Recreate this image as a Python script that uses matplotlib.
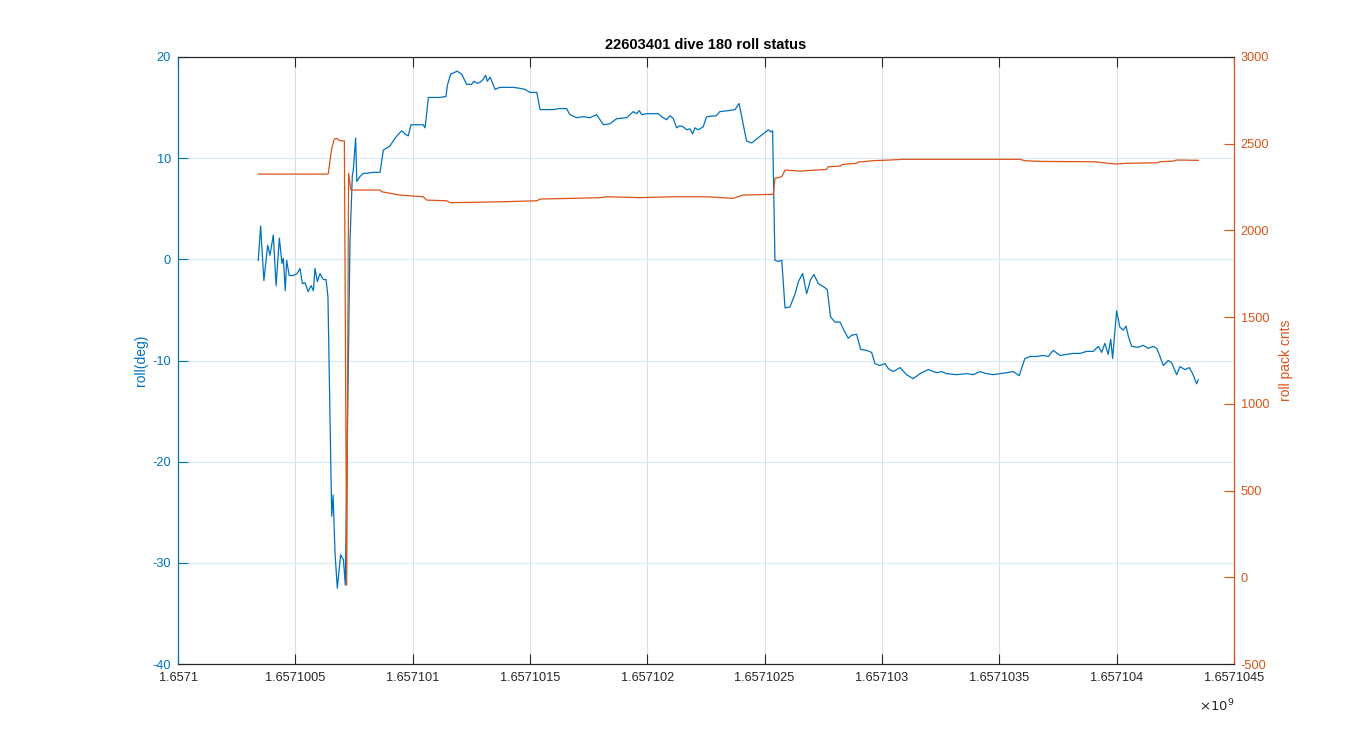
import numpy as np
import matplotlib
matplotlib.use('Agg')
import matplotlib.pyplot as plt
from matplotlib.ticker import FuncFormatter, MultipleLocator

plt.rcParams['font.family'] = ['Liberation Sans', 'DejaVu Sans']
plt.rcParams['axes.unicode_minus'] = False

T0 = 1657100000  # epoch base (s)

# roll (deg) vs time offset (s from T0)
roll_t = [342, 352, 366, 382, 392, 406, 418, 432, 443, 449, 457, 463, 474, 491, 508, 520,
          530, 541, 555, 567, 577, 584, 594, 605, 619, 631, 639, 648, 655, 661, 669, 679,
          693, 705, 713, 733, 743, 747, 757, 762, 776, 790, 804, 832, 861, 875, 903, 929,
          953, 967, 981, 993, 1017, 1045, 1053, 1067, 1116, 1142, 1148, 1162, 1190, 1209,
          1230, 1251, 1261, 1275, 1287, 1301, 1311, 1318, 1330, 1341, 1351, 1372, 1401,
          1429, 1457, 1479, 1500, 1529, 1543, 1600, 1621, 1656, 1670, 1699, 1727, 1756,
          1784, 1813, 1841, 1869, 1912, 1940, 1955, 1966, 1976, 1997, 2047, 2061, 2082,
          2097, 2111, 2125, 2139, 2153, 2168, 2182, 2193, 2203, 2217, 2238, 2253, 2295,
          2309, 2345, 2374, 2391, 2423, 2445, 2466, 2494, 2516, 2526, 2534, 2544, 2558,
          2573, 2587, 2608, 2630, 2644, 2662, 2679, 2696, 2710, 2729, 2757, 2767, 2781,
          2800, 2821, 2838, 2856, 2871, 2892, 2909, 2935, 2956, 2970, 2991, 3013, 3027,
          3048, 3077, 3105, 3133, 3162, 3197, 3233, 3254, 3276, 3318, 3361, 3389, 3418,
          3446, 3474, 3503, 3531, 3560, 3585, 3609, 3631, 3659, 3687, 3709, 3730, 3759,
          3787, 3815, 3844, 3872, 3901, 3922, 3936, 3950, 3964, 3975, 3983, 4000, 4014,
          4028, 4040, 4050, 4064, 4092, 4113, 4135, 4156, 4171, 4185, 4199, 4220, 4234,
          4256, 4270, 4291, 4310, 4324, 4341, 4348]
roll_deg = [-0.1, 3.3, -2.1, 1.4, 0.4, 2.4, -2.6, 2.1, -0.4, 0.1, -3.1, -0.1, -1.6, -1.6,
            -1.4, -0.9, -2.4, -2.3, -3.2, -2.6, -3.1, -0.9, -2.2, -1.4, -2.0, -2.0, -3.7,
            -15.9, -25.4, -23.3, -29.0, -32.5, -29.2, -29.7, -32.2, 1.9, 8.3, 8.8, 12.0,
            7.7, 8.2, 8.5, 8.5, 8.6, 8.6, 10.8, 11.2, 12.1, 12.7, 12.4, 12.2, 13.3, 13.3,
            13.3, 13.0, 16.0, 16.0, 16.1, 17.2, 18.3, 18.6, 18.3, 17.3, 17.3, 17.6, 17.4,
            17.5, 17.8, 18.2, 17.6, 18.0, 17.4, 16.8, 17.0, 17.0, 17.0, 16.9, 16.8, 16.5,
            16.5, 14.8, 14.8, 14.9, 14.9, 14.3, 14.0, 14.1, 14.0, 14.3, 13.3, 13.4, 13.9,
            14.0, 14.6, 14.4, 14.7, 14.3, 14.4, 14.4, 14.1, 13.8, 14.2, 13.9, 13.0, 13.2,
            13.1, 12.8, 12.9, 12.4, 13.0, 12.8, 13.1, 14.1, 14.2, 14.6, 14.7, 14.8, 15.4,
            11.7, 11.5, 11.9, 12.4, 12.8, 12.6, 12.7, -0.1, -0.2, -0.1, -4.8, -4.7, -3.4,
            -2.2, -1.4, -3.4, -2.0, -1.5, -2.4, -2.8, -3.0, -5.7, -6.2, -6.2, -7.0, -7.8,
            -7.5, -7.4, -8.9, -9.0, -9.2, -10.3, -10.5, -10.3, -10.8, -11.1, -10.7, -11.4,
            -11.8, -11.3, -10.9, -11.2, -11.1, -11.3, -11.4, -11.3, -11.4, -11.1, -11.3,
            -11.4, -11.3, -11.2, -11.1, -11.5, -9.8, -9.6, -9.6, -9.5, -9.6, -9.0, -9.5,
            -9.4, -9.3, -9.3, -9.1, -9.1, -8.6, -9.2, -8.3, -9.4, -7.9, -9.8, -5.1, -6.7,
            -7.0, -6.6, -7.6, -8.6, -8.7, -8.5, -8.8, -8.6, -8.8, -9.6, -10.5, -10.0, -10.2,
            -11.4, -10.6, -10.9, -10.7, -11.3, -12.3, -11.9]

# roll pack counts vs time offset (s from T0)
pack_t = [342, 640, 655, 666, 676, 690, 709, 719, 727, 737, 861, 868, 946, 1045, 1060, 1145,
          1159, 1258, 1401, 1529, 1543, 1685, 1798, 1827, 1969, 2111, 2253, 2366, 2409, 2537,
          2544, 2573, 2587, 2651, 2764, 2771, 2821, 2835, 2892, 2899, 2963, 3034, 3091, 3588,
          3609, 3673, 3901, 3947, 3993, 4043, 4171, 4185, 4242, 4256, 4348]
pack_cnts = [2325, 2325, 2473, 2527, 2531, 2517, 2516, -45, 2329, 2233, 2233, 2223, 2204,
             2194, 2175, 2171, 2160, 2162, 2166, 2171, 2181, 2185, 2189, 2194, 2189, 2194,
             2194, 2185, 2204, 2208, 2300, 2310, 2348, 2342, 2352, 2367, 2371, 2381, 2387,
             2394, 2402, 2406, 2410, 2410, 2402, 2398, 2396, 2390, 2383, 2387, 2390, 2396,
             2400, 2406, 2404]

BLUE = '#0072BD'
ORANGE = '#D95319'
DARK = '#262626'


def xfmt(v, pos):
    s = ('%.7f' % (v / 1e9)).rstrip('0').rstrip('.')
    return s


def main():
    fig = plt.figure(figsize=(13.63, 7.46), dpi=100)
    ax = fig.add_axes([0.1306, 0.1099, 0.7747, 0.8137])
    ax2 = ax.twinx()

    ax.plot(T0 + np.array(roll_t), roll_deg, color=BLUE, lw=0.9)
    ax2.plot(T0 + np.array(pack_t), pack_cnts, color=ORANGE, lw=0.9)

    ax.set_xlim(T0, T0 + 4500)
    ax.set_ylim(-40, 20)
    ax2.set_ylim(-500, 3000)
    ax.xaxis.set_major_locator(MultipleLocator(500))
    ax.xaxis.set_major_formatter(FuncFormatter(xfmt))
    ax.yaxis.set_major_locator(MultipleLocator(10))
    ax2.yaxis.set_major_locator(MultipleLocator(500))

    # grid, matlab-ish
    ax.grid(True, axis='x', color='#dadee2', lw=0.8)
    ax.grid(True, axis='y', color='#d9e8f1', lw=0.8)
    ax.set_axisbelow(True)

    for a in (ax, ax2):
        a.spines['top'].set_color(DARK)
        a.spines['bottom'].set_color(DARK)
        a.spines['left'].set_color(BLUE)
        a.spines['right'].set_color(ORANGE)
        for s in a.spines.values():
            s.set_linewidth(0.8)

    ax.tick_params(axis='x', direction='in', length=7, width=0.8, color=DARK,
                   labelcolor=DARK, labelsize=9.2, pad=6, top=True)
    ax.tick_params(axis='y', direction='in', length=7, width=0.8, color=BLUE,
                   labelcolor=BLUE, labelsize=9.2, pad=5)
    ax2.tick_params(axis='y', direction='in', length=7, width=0.8, color=ORANGE,
                    labelcolor=ORANGE, labelsize=9.2, pad=5)

    ax.set_ylabel('roll(deg)', color=BLUE, fontsize=10)
    ax.yaxis.set_label_coords(-0.028, 0.5)
    ax2.set_ylabel('roll pack cnts', color=ORANGE, fontsize=10)
    ax2.yaxis.set_label_coords(1.043, 0.5)

    ax.set_title('22603401 dive 180 roll status', fontsize=10.5, fontweight='bold',
                 color='black', pad=6)

    ax.text(1.0, -0.055, r'$\times10^{9}$', transform=ax.transAxes, ha='right',
            va='top', fontsize=9.5, color=DARK)

    fig.savefig('out.png', dpi=100)


if __name__ == '__main__':
    main()
